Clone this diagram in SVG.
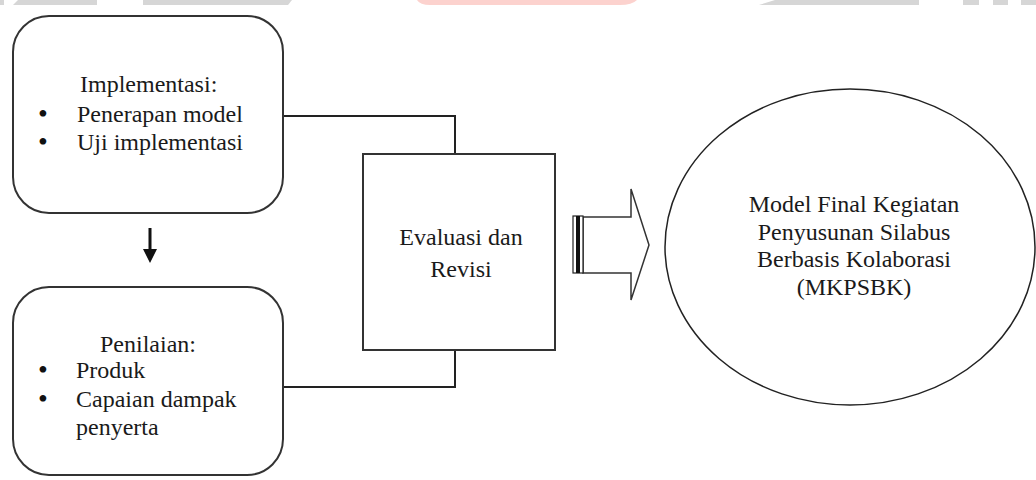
<svg xmlns="http://www.w3.org/2000/svg" width="1036" height="480" viewBox="0 0 1036 480">
  <style>
    .box { fill: #ffffff; stroke: #333333; stroke-width: 2; }
    .line { fill: none; stroke: #222222; stroke-width: 2; }
    .txt { font-family: "Liberation Serif", "DejaVu Serif", "Noto Serif", serif; font-size: 24px; fill: #1a1a1a; }
    .dot { font-family: "Liberation Serif", "DejaVu Serif", serif; font-size: 28px; fill: #111111; }
    .mid { text-anchor: middle; }
    .band { fill: #d6d6d6; }
  </style>

  <rect width="1036" height="480" fill="#ffffff"/>

  <!-- header strip -->
  <g id="header">
    <polygon class="band" points="0,0 4,0 4,5 0,5"/>
    <polygon class="band" points="18,0 97,0 97,5 13,5"/>
    <polygon class="band" points="143,0 292,0 288,5 143,5"/>
    <path d="M417,0 L637,0 Q632,5 620,5 L430,5 Q420,5 417,0 Z" fill="#fcd2ce"/>
    <polygon class="band" points="775,0 919,0 919,5 759,5"/>
    <rect class="band" x="963" y="0" width="16" height="5"/>
    <rect class="band" x="993" y="0" width="15" height="5"/>
    <rect class="band" x="1021" y="0" width="15" height="5"/>
  </g>

  <!-- connectors -->
  <g id="connectors">
    <polyline class="line" points="283,116 455,116 455,154"/>
    <polyline class="line" points="283,387 455,387 455,350"/>
    <path d="M148.5,228 L151.5,228 L151.5,249 L157,249 L150,263 L143,249 L148.5,249 Z" fill="#111111"/>
  </g>

  <g id="implementasi">
    <rect class="box" x="13" y="16" width="270" height="197" rx="36" ry="36"/>
    <text class="txt" x="80" y="92">Implementasi:</text>
    <text class="dot" x="38" y="123">•</text>
    <text class="txt" x="77" y="122">Penerapan model</text>
    <text class="dot" x="38" y="151">•</text>
    <text class="txt" x="77" y="150">Uji implementasi</text>
  </g>

  <g id="penilaian">
    <rect class="box" x="13" y="287" width="270" height="188" rx="36" ry="36"/>
    <text class="txt" x="100" y="352">Penilaian:</text>
    <text class="dot" x="38" y="379">•</text>
    <text class="txt" x="76" y="378">Produk</text>
    <text class="dot" x="38" y="408">•</text>
    <text class="txt" x="76" y="407">Capaian dampak</text>
    <text class="txt" x="76" y="435">penyerta</text>
  </g>

  <g id="evaluasi">
    <rect class="box" x="363" y="154" width="192" height="196" stroke="#222222"/>
    <text class="txt mid" x="461" y="245">Evaluasi dan</text>
    <text class="txt mid" x="461" y="277">Revisi</text>
  </g>

  <g id="panah">
    <path d="M583,217 L631,217 L631,189 L649,245 L631,300 L631,273 L583,273 Z" fill="#ffffff" stroke="#333333" stroke-width="1.5"/>
    <rect x="573" y="216" width="10" height="57" fill="#ffffff" stroke="#222222" stroke-width="1.2"/>
    <rect x="576" y="216" width="4" height="57" fill="#111111"/>
  </g>

  <g id="model-final">
    <ellipse cx="850" cy="247" rx="185" ry="158" fill="#ffffff" stroke="#222222" stroke-width="1.5"/>
    <text class="txt mid" x="854" y="212">Model Final Kegiatan</text>
    <text class="txt mid" x="854" y="240">Penyusunan Silabus</text>
    <text class="txt mid" x="854" y="267">Berbasis Kolaborasi</text>
    <text class="txt mid" x="854" y="295">(MKPSBK)</text>
  </g>
</svg>
